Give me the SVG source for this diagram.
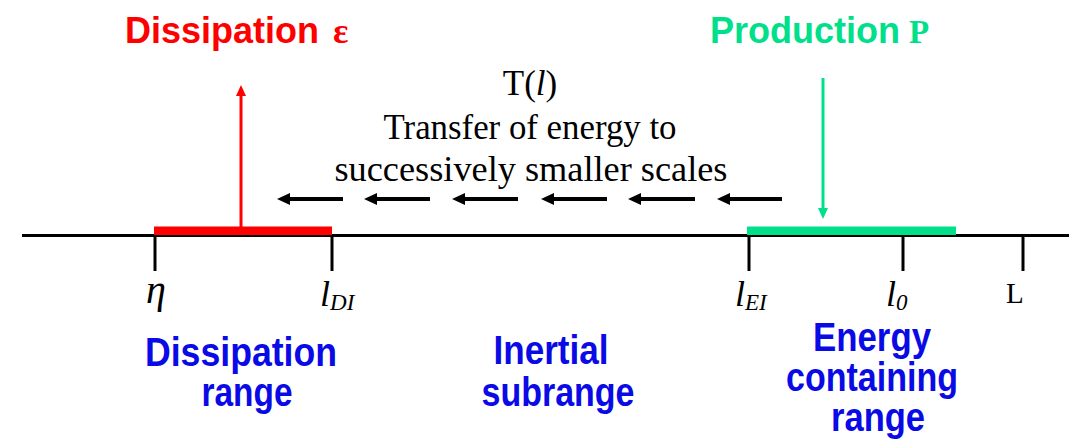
<svg xmlns="http://www.w3.org/2000/svg" width="1084" height="444" viewBox="0 0 1084 444">
  <style>
    .title { font-family: "Liberation Sans", Arial, sans-serif; font-weight: bold; font-size: 36px; }
    .serifb { font-family: "Liberation Serif", "Times New Roman", serif; font-weight: bold; }
    .serif { font-family: "Liberation Serif", "Times New Roman", serif; fill: #000; }
    .it { font-style: italic; }
    .blue { font-family: "Liberation Sans", Arial, sans-serif; font-weight: bold; font-size: 40px; fill: #0a0ae6; }
    .axis { stroke: #000; stroke-width: 3; fill: none; }
    .tick { stroke: #000; stroke-width: 3; }
    .flow { stroke: #000; stroke-width: 4; fill: none; marker-end: url(#ahBlack); }
  </style>
  <defs>
    <marker id="ahBlack" markerUnits="userSpaceOnUse" markerWidth="13" markerHeight="12" viewBox="0 0 13 12" refX="1" refY="6" orient="auto">
      <path d="M0,0 L13,6 L0,12 z" fill="#000"/>
    </marker>
    <marker id="ahRed" markerUnits="userSpaceOnUse" markerWidth="11" markerHeight="10" viewBox="0 0 11 10" refX="1" refY="5" orient="auto">
      <path d="M0,0 L11,5 L0,10 z" fill="#ff0000"/>
    </marker>
    <marker id="ahGreen" markerUnits="userSpaceOnUse" markerWidth="11" markerHeight="10" viewBox="0 0 11 10" refX="1" refY="5" orient="auto">
      <path d="M0,0 L11,5 L0,10 z" fill="#00e08a"/>
    </marker>
  </defs>
  <rect width="1084" height="444" fill="#fff"/>

  <!-- axis -->
  <g id="axis">
    <line class="axis" x1="22" y1="235.5" x2="1069" y2="235.5"/>
    <line class="tick" x1="155" y1="235" x2="155" y2="271"/>
    <line class="tick" x1="332" y1="235" x2="332" y2="271"/>
    <line class="tick" x1="749" y1="235" x2="749" y2="271"/>
    <line class="tick" x1="903" y1="235" x2="903" y2="271"/>
    <line class="tick" x1="1023" y1="235" x2="1023" y2="271"/>
  </g>

  <g id="dissipation-bar">
    <rect x="154" y="226.5" width="178" height="8.5" fill="#ff0000"/>
  </g>
  <g id="production-bar">
    <rect x="747" y="226.5" width="209" height="8.5" fill="#00e08a"/>
  </g>

  <g id="dissipation-title">
    <text class="title" x="125" y="43" fill="#ff0000">Dissipation</text>
    <text class="serifb" x="333" y="43" font-size="36" fill="#ff0000">ε</text>
  </g>
  <g id="production-title">
    <text class="title" x="710" y="43" fill="#00e08a">Production</text>
    <text class="serifb" x="909" y="43" font-size="33" fill="#00e08a">P</text>
  </g>

  <g id="transfer-label">
    <text class="serif" x="530" y="95" font-size="35" text-anchor="middle">T(<tspan class="it">l</tspan>)</text>
    <text class="serif" x="530" y="139" font-size="35" text-anchor="middle" textLength="293" lengthAdjust="spacingAndGlyphs">Transfer of energy to</text>
    <text class="serif" x="531" y="181" font-size="35" text-anchor="middle" textLength="393" lengthAdjust="spacingAndGlyphs">successively smaller scales</text>
  </g>

  <g id="scale-labels">
    <text class="serif it" x="146" y="303" font-size="40">η</text>
    <text class="serif it" x="320" y="306" font-size="36">l<tspan font-size="23" dy="4">DI</tspan></text>
    <text class="serif it" x="735" y="306" font-size="36">l<tspan font-size="23" dy="4">EI</tspan></text>
    <text class="serif it" x="886" y="306" font-size="36">l<tspan font-size="23" dy="4">0</tspan></text>
    <text class="serif" x="1006" y="303" font-size="29">L</text>
  </g>

  <g id="dissipation-range">
    <text class="blue" x="241" y="366" text-anchor="middle" textLength="192" lengthAdjust="spacingAndGlyphs">Dissipation</text>
    <text class="blue" x="247" y="406" text-anchor="middle" textLength="91" lengthAdjust="spacingAndGlyphs">range</text>
  </g>
  <g id="inertial-subrange">
    <text class="blue" x="551" y="364" text-anchor="middle" textLength="115" lengthAdjust="spacingAndGlyphs">Inertial</text>
    <text class="blue" x="558" y="406" text-anchor="middle" textLength="153" lengthAdjust="spacingAndGlyphs">subrange</text>
  </g>
  <g id="energy-containing-range">
    <text class="blue" x="872" y="351" text-anchor="middle" textLength="118" lengthAdjust="spacingAndGlyphs">Energy</text>
    <text class="blue" x="872" y="391" text-anchor="middle" textLength="172" lengthAdjust="spacingAndGlyphs">containing</text>
    <text class="blue" x="878" y="431" text-anchor="middle" textLength="94" lengthAdjust="spacingAndGlyphs">range</text>
  </g>

  <g id="connectors">
    <line x1="241" y1="227" x2="241" y2="95" stroke="#ff0000" stroke-width="3" marker-end="url(#ahRed)"/>
    <line x1="823" y1="78" x2="823" y2="209" stroke="#00e08a" stroke-width="3" marker-end="url(#ahGreen)"/>
    <line class="flow" x1="343" y1="199" x2="289" y2="199"/>
    <line class="flow" x1="430" y1="199" x2="376" y2="199"/>
    <line class="flow" x1="518" y1="199" x2="464" y2="199"/>
    <line class="flow" x1="607" y1="199" x2="553" y2="199"/>
    <line class="flow" x1="695" y1="199" x2="640" y2="199"/>
    <line class="flow" x1="782" y1="199" x2="729" y2="199"/>
  </g>
</svg>
